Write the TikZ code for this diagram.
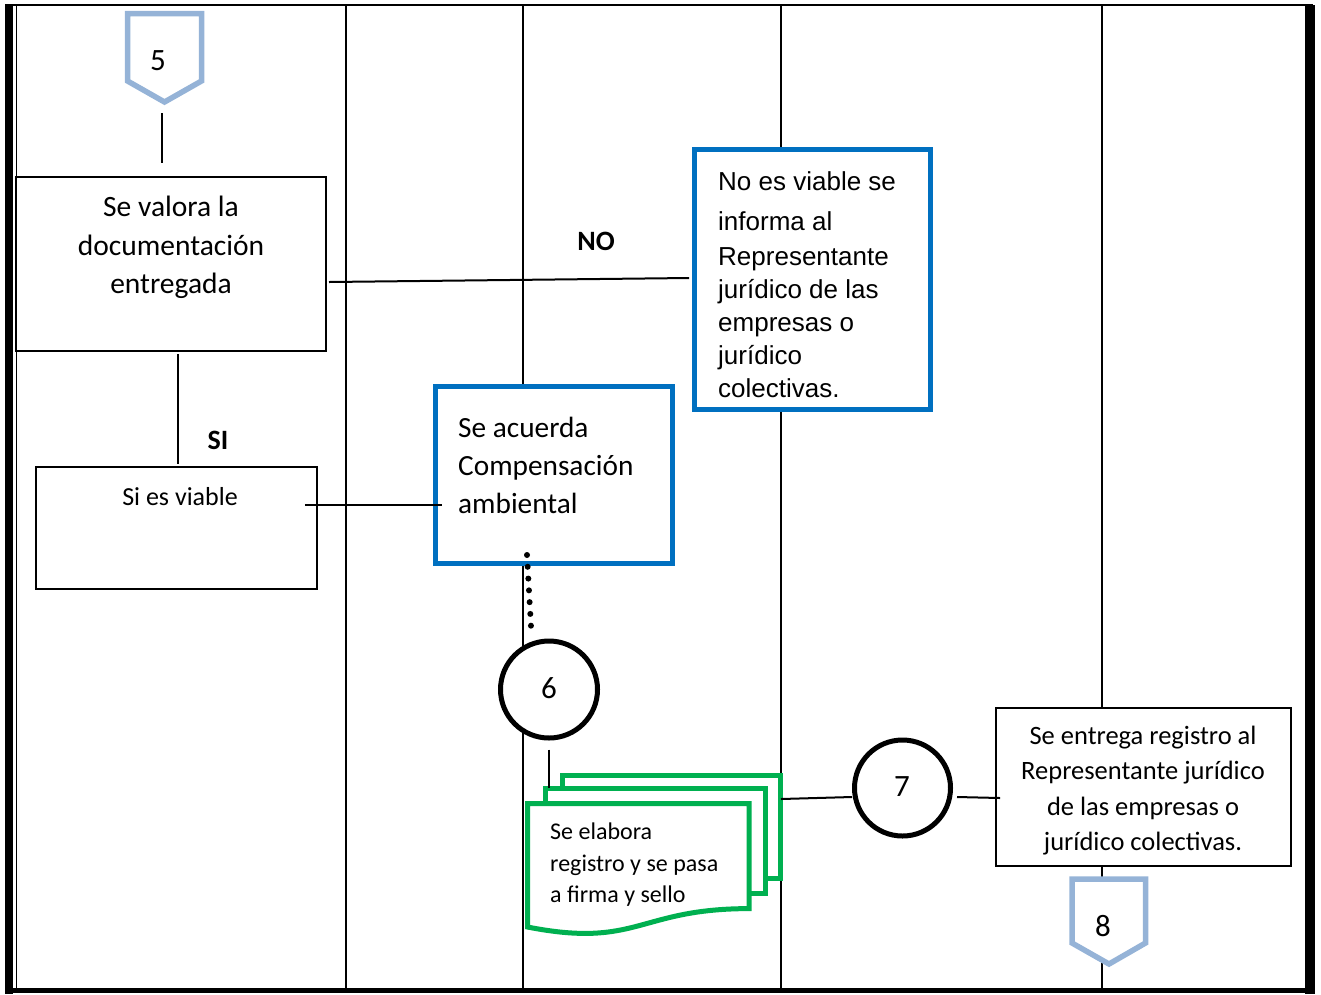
\documentclass[tikz,border=0pt]{standalone}
\usepackage{fontspec}
\setmainfont{Carlito}
\newfontfamily\arialf{Liberation Sans}
\newcommand\myfs[2]{\fontsize{#1}{#2}\selectfont}
\definecolor{myblue}{HTML}{0070C0}
\definecolor{mygreen}{HTML}{00B050}
\definecolor{lblue}{HTML}{95B3D7}
\begin{document}
\begin{tikzpicture}[x=1pt,y=-1pt,
  lane/.style={line width=2pt},
  link/.style={line width=2pt},
  proc/.style={draw, line width=1.8pt, fill=white, inner sep=0pt},
  bluebox/.style={draw=myblue, line width=5pt, fill=white, inner sep=0pt},
  conn/.style={circle, draw, line width=5pt, fill=white, inner sep=0pt},
  offp/.style={draw=lblue, line width=5.5pt, fill=white, line join=miter},
  docs/.style={draw=mygreen, line width=5pt, fill=white, line join=miter},
  txt/.style={inner sep=0pt},
  numtxt/.style={inner sep=0pt, font=\myfs{31}{36}},
  dotline/.style={line width=6pt, dash pattern=on 0pt off 11.8pt, line cap=round}
]
\useasboundingbox (0,0) rectangle (1321,994);
% frame
\draw[line width=2.5pt] (13,5) -- (1305,5);
\fill (5,4) rectangle (13,994);
\draw[line width=1.5pt] (16.5,5) -- (16.5,988);
\fill (13,987.5) rectangle (1305,993);
\fill (1305,4) rectangle (1312.5,994);
\draw[line width=1.2pt] (1314,5) -- (1314,994);
% lanes
\foreach \xx in {346,523,781,1102} \draw[lane] (\xx,5) -- (\xx,988);

% off-page connector 5
\draw[offp] (127.5,13.5) -- (201.5,13.5) -- (201.5,81) -- (164.5,102) -- (127.5,81) -- cycle;
\coordinate (p5tip) at (164.5,103);
\node[numtxt] (n5) at (158,61) {5};

% boxes
\node[proc, minimum width=310.2pt, minimum height=174.2pt] (v1) at (171,264) {};
\node[bluebox, minimum width=236pt, minimum height=260pt] (nobox) at (812.5,279.5) {};
\node[proc, minimum width=281pt, minimum height=122pt] (si) at (176.5,528) {};
\node[bluebox, minimum width=237pt, minimum height=177pt] (ac) at (554,475) {};
\node[conn, minimum size=97pt] (c6) at (549,689.5) {};
\node[conn, minimum size=96pt] (c7) at (902.5,788) {};
\node[proc, minimum width=295pt, minimum height=158pt] (b7) at (1143.5,787) {};

% multi-document
\draw[docs] (562.5,775.5) rectangle (780,878);
\draw[docs] (545.5,788.5) rectangle (765.5,893);
\draw[docs] (527.5,803.5) -- (749,803.5) -- (749,908.6)
   .. controls (638,908.6) and (638,948.6) .. (527.5,927) -- cycle;
\coordinate (doctop) at (549,788);
\coordinate (docR) at (781,799);

% off-page connector 8
\draw[offp] (1072,879) -- (1145.5,879) -- (1145.5,943) -- (1109,964) -- (1072,943) -- cycle;
\node[numtxt] (n8) at (1103,926) {8};

% connectors
\draw[link] ([xshift=-2.5pt,yshift=-10pt]p5tip) -- ([xshift=-9pt,yshift=13pt]v1.north);
\draw[link] ([xshift=2pt,yshift=-18pt]v1.east) -- ([xshift=-3pt,yshift=1.5pt]nobox.west);
\draw[link] ([xshift=7pt,yshift=-2pt]v1.south) -- ([xshift=1.5pt,yshift=2pt]si.north);
\draw[link] ([xshift=-13pt,yshift=23pt]si.east) -- ([xshift=9pt,yshift=-30pt]ac.west);
\draw[dotline] ([xshift=-27pt,yshift=11pt]ac.south) -- ([xshift=-18pt,yshift=12pt]c6.north);
\draw[link] ([yshift=-9pt]c6.south) -- (doctop);
\draw[link] (docR) -- ([yshift=-9pt]c7.west);
\draw[link] ([xshift=4pt,yshift=-9pt]c7.east) -- ([xshift=5pt,yshift=-11pt]b7.west);

% texts
\node[txt, anchor=north, align=center, font=\myfs{29.5}{38.5}] (t1) at (171,196) {Se valora la\\documentación\\entregada};
\node[txt, font=\bfseries\myfs{28}{30}] (lno) at (596,241) {NO};
\node[txt, anchor=north west, align=left, font=\arialf\myfs{26}{33}] (tno) at (718,171)
  {No es viable se\\[7pt]informa al\\[2pt]Representante\\jurídico de las\\empresas o\\jurídico\\colectivas.};
\node[txt, font=\bfseries\myfs{28}{30}] (lsi) at (218,440) {SI};
\node[txt, anchor=north, font=\myfs{26}{30}] (tsi) at (180,487) {Si es viable};
\node[txt, anchor=north west, align=left, font=\myfs{29.3}{38}] (tac) at (458,417) {Se acuerda\\Compensación\\ambiental};
\node[numtxt] (n6) at (549,688) {6};
\node[txt, anchor=north west, align=left, font=\myfs{24}{31.5}] (doct) at (550,823) {Se elabora\\registro y se pasa\\a firma y sello};
\node[numtxt] (n7) at (902,787) {7};
\node[txt, anchor=north, align=center, font=\myfs{26.5}{35.3}] (t7) at (1143,726) {Se entrega registro al\\Representante jurídico\\de las empresas o\\jurídico colectivas.};
\end{tikzpicture}
\end{document}
